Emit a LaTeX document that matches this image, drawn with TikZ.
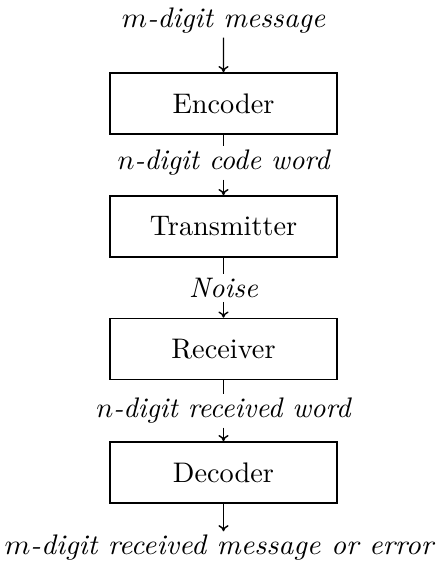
\documentclass[tikz,border=0pt]{standalone}
\usetikzlibrary{arrows.meta}
\begin{document}
\begin{tikzpicture}[x=0.3534pt,y=-0.3534pt,
  blockbox/.style={draw,line width=0.5pt,minimum width=80.2pt,minimum height=21.6pt,inner sep=0pt},
  lbl/.style={inner sep=1.2pt,font=\itshape},
  conn/.style={line width=0.5pt},
  arr/.style={conn,-{To[length=2.2pt,width=3.6pt]}}]
\useasboundingbox (0,0) rectangle (437,563);
\node[lbl,xscale=1.02] (in) at (223.5,21) {$m$-digit message};
\node[blockbox] (enc) at (223.5,103.5) {Encoder};
\node[lbl] (l1) at (223.5,163) {$n$-digit code word};
\node[blockbox] (tr) at (223.5,226.5) {Transmitter};
\node[lbl] (l2) at (223.5,288) {Noise};
\node[blockbox] (rc) at (223.5,349) {Receiver};
\node[lbl] (l3) at (223.5,411) {$n$-digit received word};
\node[blockbox] (dec) at (223.5,472.5) {Decoder};
\node[lbl,xscale=1.04] (out) at (219,548) {$m$-digit received message or error};
\coordinate (outtop) at (dec.south |- out.north);
\draw[arr] (in) -- (enc);
\draw[conn] (enc) -- (l1);
\draw[arr] (l1) -- (tr);
\draw[conn] (tr) -- (l2);
\draw[arr] (l2) -- (rc);
\draw[conn] (rc) -- (l3);
\draw[arr] (l3) -- (dec);
\draw[arr] (dec.south) -- (outtop);
\end{tikzpicture}
\end{document}
